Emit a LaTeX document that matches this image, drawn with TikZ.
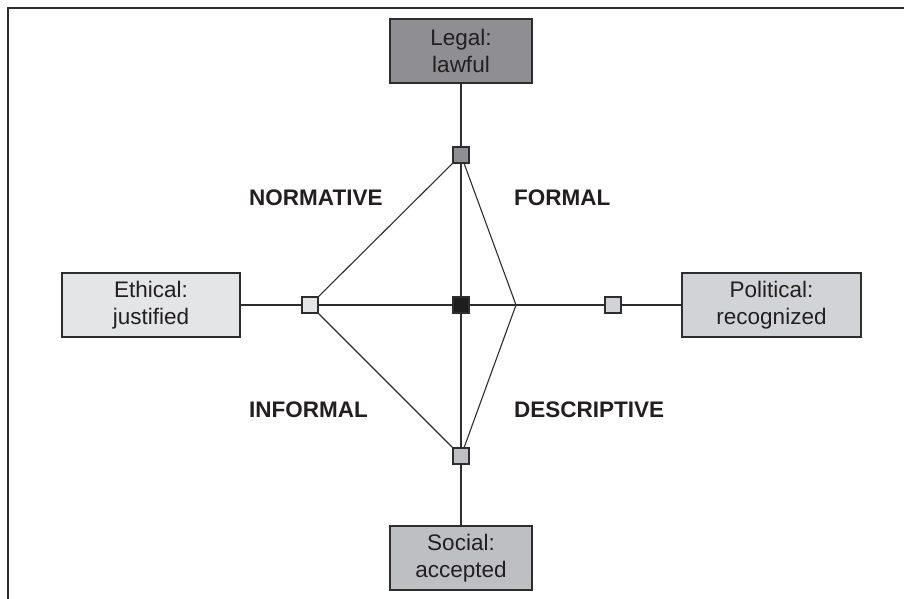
\documentclass[tikz,border=0pt]{standalone}
\usepackage{fontspec}
\setmainfont{Liberation Sans}
\definecolor{ink}{RGB}{35,31,32}
\definecolor{edge}{RGB}{45,45,45}
\definecolor{gLegal}{RGB}{143,143,147}
\definecolor{gPol}{RGB}{210,211,214}
\definecolor{gEth}{RGB}{228,229,231}
\definecolor{gSoc}{RGB}{190,191,195}
\definecolor{gCtr}{RGB}{30,30,30}
\tikzset{
  bigbox/.style={draw=edge, line width=1.6pt, minimum width=142pt, minimum height=64pt,
    inner sep=0pt, align=center, text=ink, font=\fontsize{22.5}{27}\selectfont},
  sq/.style={draw=edge, line width=1.4pt, minimum size=16pt, inner sep=0pt},
  link/.style={draw=edge, line width=1.1pt},
  lab/.style={anchor=west, inner sep=0pt, text=ink, font=\fontsize{22.5}{27}\selectfont\bfseries}
}
\begin{document}
\begin{tikzpicture}[x=1pt,y=-1pt]
\useasboundingbox (0,0) rectangle (904,599);
\draw[edge, line width=1.8pt] (8,599) -- (8,8) -- (904,8);
% boxes
\node[bigbox, fill=gLegal] (legal) at (461,51) {Legal:\\lawful};
\node[bigbox, fill=gSoc] (social) at (461,558) {Social:\\accepted};
\node[bigbox, fill=gEth, minimum width=178pt] (ethical) at (151,305) {Ethical:\\justified};
\node[bigbox, fill=gPol, minimum width=179pt] (political) at (771.5,305) {Political:\\recognized};
% squares
\node[sq, fill=gLegal] (sqT) at (461,155) {};
\node[sq, fill=gEth] (sqL) at (310,305) {};
\node[sq, fill=gPol] (sqR) at (613,305) {};
\node[sq, fill=gSoc] (sqB) at (461,456) {};
\node[sq, fill=gCtr] (ctr) at (461,305) {};
\coordinate (vR) at (516,305);
% axes
\draw[link] (legal) -- (sqT) -- (ctr) -- (sqB) -- (social);
\draw[link] (ethical) -- (sqL) -- (ctr) -- (vR) -- (sqR) -- (political);
% diamond
\draw[link] (sqT) -- (sqL);
\draw[link] (sqT) -- (vR);
\draw[link] (sqL) -- (sqB);
\draw[link] (vR) -- (sqB);
% labels
\node[lab] (normative) at (249,198) {NORMATIVE};
\node[lab] (formal) at (514,198) {FORMAL};
\node[lab] (informal) at (249,410) {INFORMAL};
\node[lab] (descriptive) at (514,410) {DESCRIPTIVE};
\end{tikzpicture}
\end{document}
